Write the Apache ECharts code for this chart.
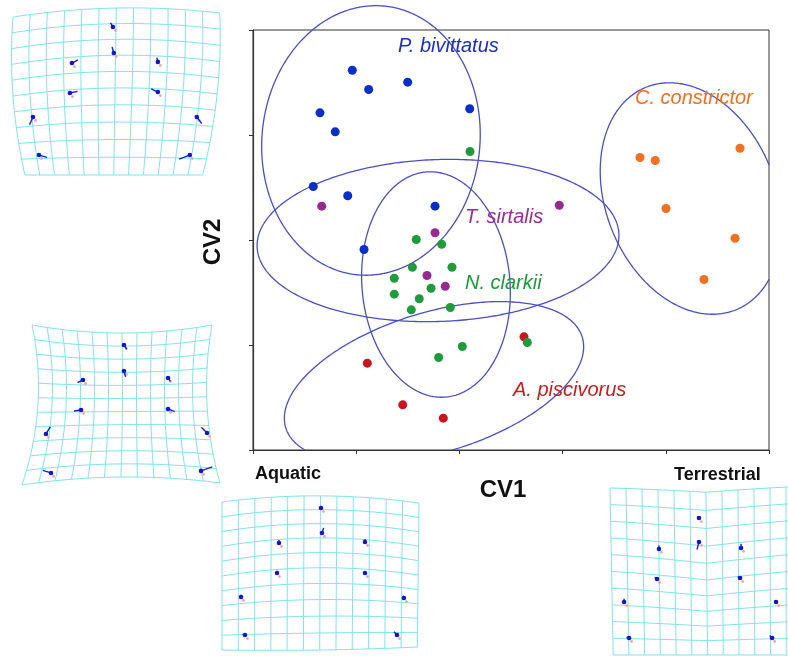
<!DOCTYPE html>
<html><head><meta charset="utf-8">
<script src="https://cdn.jsdelivr.net/npm/echarts@6/dist/echarts.min.js"></script>
<style>html,body{margin:0;padding:0;background:#fff}#c{width:788px;height:656px}</style>
</head><body><div id="c"></div>
<script>
// ---------- data (CV1, CV2 in axis units) ----------
const xRange = [0, 5];
const yRange = [0, 4];
const pBivittatus = [[0.962,3.617],[1.121,3.433],[1.499,3.503],[0.649,3.211],[0.797,3.030],[2.100,3.250],[0.584,2.510],[0.918,2.421],[1.764,2.322],[1.076,1.910]];
const nClarkii = [[2.103,2.843],[1.582,2.005],[1.828,1.960],[1.544,1.741],[1.928,1.741],[1.369,1.636],[1.725,1.541],[1.369,1.484],[1.611,1.440],[1.534,1.335],[1.912,1.357],[2.028,0.986],[1.799,0.881],[2.658,1.024]];
const tSirtalis = [[0.666,2.322],[1.764,2.069],[1.686,1.662],[1.863,1.560],[2.968,2.331]];
const aPiscivorus = [[1.108,0.827],[1.451,0.430],[1.844,0.303],[2.626,1.078]];
const cConstrictor = [[3.750,2.786],[3.898,2.757],[4.719,2.874],[4.002,2.300],[4.671,2.017],[4.370,1.624]];
// ellipses: [centre CV1, centre CV2, semi-axis CV1, semi-axis CV2, rotation deg]
const ellipsePB = [1.143,2.948,1.056,1.286,-6];
const ellipseTS = [1.793,1.995,1.754,0.771,2];
const ellipseNC = [1.773,1.576,0.717,1.076,5];
const ellipseAP = [1.754,0.643,1.502,0.667,17];
const ellipseCC = [4.244,2.395,0.824,1.143,22];
// landmarks of deformation grids: [u, v, du, dv] in grid-cell units
const lmCV2High = [[5.85,0.86,-0.14,-0.25],[5.9,2.47,-0.1,-0.37],[3.45,3.09,0.35,-0.2],[8.48,3.02,-0.06,-0.27],[3.33,4.94,0.45,-0.1],[8.48,4.88,-0.39,-0.2],[1.17,6.42,-0.2,0.47],[10.76,6.42,0.29,0.41],[1.52,8.77,0.47,0.14],[10.35,8.77,-0.63,0.25]];
const lmCV2Low = [[6.13,1.37,0.18,0.3],[6.13,3.16,0.11,0.41],[3.4,3.78,-0.36,0.18],[9.07,3.64,0.16,0.23],[3.27,5.84,-0.47,0.07],[9.07,5.77,0.44,0.18],[0.93,7.49,0.29,-0.48],[11.67,7.42,-0.38,-0.39],[1.27,10.17,-0.55,-0.18],[11.27,10.03,0.75,-0.27]];
const lmAquatic = [[6.03,0.41,0,-0.1],[6.09,2.09,0.1,-0.34],[3.47,2.77,0,-0.2],[8.71,2.7,0,-0.2],[3.35,4.8,0,-0.15],[8.71,4.8,0,-0.1],[1.16,6.42,0,-0.15],[11.08,6.49,-0.05,-0.15],[1.4,8.99,-0.15,-0.05],[10.66,8.99,-0.18,-0.22]];
const lmTerrestrial = [[5.56,1.8,-0.1,-0.1],[5.56,3.23,-0.12,0.46],[3.06,3.65,0,-0.2],[8.19,3.59,0,-0.25],[2.94,5.45,-0.15,-0.1],[8.13,5.39,-0.15,-0.05],[0.88,6.83,0,-0.2],[10.38,6.83,-0.1,-0.1],[1.19,8.98,-0.15,-0.05],[10.13,8.98,-0.15,-0.15]];

// ---------- layout / style ----------
const thumbs = [
  {grid:{left:13,top:13,width:205,height:162}, nC:12,nR:10, tl:[0,0.25],tr:[12.1,0],bl:[0.7,10],br:[11.1,10], bowT:-0.43,bowB:0,bowL:-0.35,bowR:0.35,mid:-0.22,vee:false, lm:lmCV2High},
  {grid:{left:32,top:325,width:180,height:160}, nC:12,nR:11, tl:[0,0],tr:[12,0],bl:[-0.67,11],br:[12.53,10.86], bowT:0.55,bowB:-0.48,bowL:0.73,bowR:-0.6,mid:0,vee:false, lm:lmCV2Low},
  {grid:{left:222,top:502,width:197,height:148}, nC:12,nR:10, tl:[0,0],tr:[12,0.07],bl:[0,10],br:[11.9,9.8], bowT:-0.45,bowB:0.1,bowL:0,bowR:0,mid:-0.35,vee:false, lm:lmAquatic},
  {grid:{left:610,top:488,width:192,height:167}, nC:12,nR:10, tl:[0,0],tr:[12,-0.1],bl:[0.2,10],br:[12,10], bowT:0.3,bowB:0,bowL:0,bowR:0,mid:0.38,vee:true, lm:lmTerrestrial}
];

function renderEllipse(params, api) {
  const rot = api.value(4) * Math.PI / 180;
  const c = api.coord([api.value(0), api.value(1)]);
  const sz = api.size([1, 1]);
  const rx = api.value(2) * sz[0], ry = api.value(3) * sz[1];
  const cs = params.coordSys;
  const left = cs.x, right = cs.x + cs.width, bottom = cs.y + cs.height;
  const segs = []; let cur = [];
  const N = 400;
  for (let i = 0; i <= N; i++) {
    const t = i / N * 2 * Math.PI;
    const ex = rx * Math.cos(t), ey = -ry * Math.sin(t);
    const X = c[0] + ex * Math.cos(rot) + ey * Math.sin(rot);
    const Y = c[1] - ex * Math.sin(rot) + ey * Math.cos(rot);
    if (X >= left - 0.5 && X <= right + 0.5 && Y <= bottom + 0.5) cur.push([X, Y]);
    else { if (cur.length > 1) segs.push(cur); cur = []; }
  }
  if (cur.length > 1) segs.push(cur);
  return {type:'group', children: segs.map(p => ({type:'polyline', shape:{points:p}, style:{stroke:'#4b4fc6', lineWidth:1.3, fill:null}}))};
}

function meshRender(cfg) {
  return function (params, api) {
    const P = (u, v) => {
      const s = u / cfg.nC, t = v / cfg.nR;
      const k = 4 * s * (1 - s), kv = 4 * t * (1 - t);
      const km = cfg.vee ? Math.pow(1 - Math.abs(2 * s - 1), 1.2) : k;
      let x = (1-s)*(1-t)*cfg.tl[0] + s*(1-t)*cfg.tr[0] + (1-s)*t*cfg.bl[0] + s*t*cfg.br[0];
      let y = (1-s)*(1-t)*cfg.tl[1] + s*(1-t)*cfg.tr[1] + (1-s)*t*cfg.bl[1] + s*t*cfg.br[1];
      y += ((1-t)*cfg.bowT + t*cfg.bowB) * km + cfg.mid * km * Math.sin(Math.PI * t);
      x += ((1-s)*cfg.bowL + s*cfg.bowR) * kv;
      return api.coord([x, y]);
    };
    const children = [];
    const st = {stroke:'#7fe3e8', lineWidth:1, fill:null};
    for (let r = 0; r <= cfg.nR; r++) {
      const p = []; for (let i = 0; i <= cfg.nC * 4; i++) p.push(P(i / 4, r));
      children.push({type:'polyline', shape:{points:p}, style:st});
    }
    for (let c = 0; c <= cfg.nC; c++) {
      const p = []; for (let i = 0; i <= cfg.nR * 4; i++) p.push(P(c, i / 4));
      children.push({type:'polyline', shape:{points:p}, style:st});
    }
    return {type:'group', children};
  };
}

function lmRender(params, api) {
  const p = api.coord([api.value(0), api.value(1)]);
  const q = api.coord([api.value(0) + api.value(2), api.value(1) + api.value(3)]);
  return {type:'group', children:[
    {type:'circle', shape:{cx:p[0]+2.5, cy:p[1]+3.5, r:1.4}, style:{fill:'#f3a3a3'}},
    {type:'line', shape:{x1:p[0], y1:p[1], x2:q[0], y2:q[1]}, style:{stroke:'#1c1cd0', lineWidth:1.4}},
    {type:'circle', shape:{cx:p[0], cy:p[1], r:2.3}, style:{fill:'#1414c8'}}
  ]};
}

const grids = [{left:253, top:30, width:516, height:420, show:true, borderColor:'#333', borderWidth:1, outerBoundsMode:'none', containLabel:false}];
const xAxes = [{type:'value', gridIndex:0, min:xRange[0], max:xRange[1], interval:1,
  axisLine:{lineStyle:{color:'#333', width:1.2}}, axisTick:{inside:false, length:4, lineStyle:{color:'#333'}},
  axisLabel:{show:false}, splitLine:{show:false}}];
const yAxes = [{type:'value', gridIndex:0, min:yRange[0], max:yRange[1], interval:1,
  axisLine:{lineStyle:{color:'#333', width:1.2}}, axisTick:{inside:false, length:4, lineStyle:{color:'#333'}},
  axisLabel:{show:false}, splitLine:{show:false}}];
const series = [];
const sym = (name, data, color) => ({type:'scatter', name, xAxisIndex:0, yAxisIndex:0, data, symbolSize:9, itemStyle:{color, opacity:1}, z:5});

series.push({type:'custom', xAxisIndex:0, yAxisIndex:0, clip:false, z:3, renderItem:renderEllipse,
  data:[ellipsePB, ellipseTS, ellipseNC, ellipseAP, ellipseCC], encode:{x:0, y:1}, silent:true});
series.push(sym('A. piscivorus', aPiscivorus, '#c8161e'));
series.push(sym('C. constrictor', cConstrictor, '#f37021'));
series.push(sym('P. bivittatus', pBivittatus, '#0a2ec8'));
series.push(sym('N. clarkii', nClarkii, '#1f9a3c'));
series.push(sym('T. sirtalis', tSirtalis, '#952b92'));

thumbs.forEach((t, i) => {
  const gi = i + 1;
  grids.push(Object.assign({outerBoundsMode:'none', containLabel:false}, t.grid));
  xAxes.push({type:'value', gridIndex:gi, min:0, max:t.nC, show:false});
  yAxes.push({type:'value', gridIndex:gi, min:0, max:t.nR, inverse:true, show:false});
  series.push({type:'custom', xAxisIndex:gi, yAxisIndex:gi, clip:false, z:1, silent:true, renderItem:meshRender(t), data:[[0,0]]});
  series.push({type:'custom', xAxisIndex:gi, yAxisIndex:gi, clip:false, z:2, silent:true, renderItem:lmRender, data:t.lm, encode:{x:0, y:1}});
});

const labelFont = 'italic 20px "Liberation Sans", Arial, sans-serif';
const boldFont = (s) => 'bold ' + s + 'px "Liberation Sans", Arial, sans-serif';
const txt = (text, x, y, font, fill, align, rotation) => ({type:'text', x, y, rotation: rotation || 0, z:10,
  style:{text, font, fill, textAlign: align || 'left', textVerticalAlign:'middle'}});

const chart = echarts.init(document.getElementById('c'), null, {renderer:'canvas'});
chart.setOption({
  backgroundColor:'#fff',
  animation:false,
  grid: grids, xAxis: xAxes, yAxis: yAxes, series,
  graphic: [
    txt('P. bivittatus', 398, 46, labelFont, '#1a2fc4'),
    txt('C. constrictor', 635, 98, labelFont, '#f07020'),
    txt('T. sirtalis', 465, 217, labelFont, '#9b2a96'),
    txt('N. clarkii', 465, 283, labelFont, '#1e9a3c'),
    txt('A. piscivorus', 513, 390, labelFont, '#c41e1e'),
    txt('CV1', 503, 490, boldFont(24), '#111', 'center'),
    txt('CV2', 213, 242, boldFont(24), '#111', 'center', Math.PI / 2),
    txt('Aquatic', 255, 474, boldFont(18), '#111'),
    txt('Terrestrial', 674, 475, boldFont(18), '#111')
  ]
});
</script></body></html>
